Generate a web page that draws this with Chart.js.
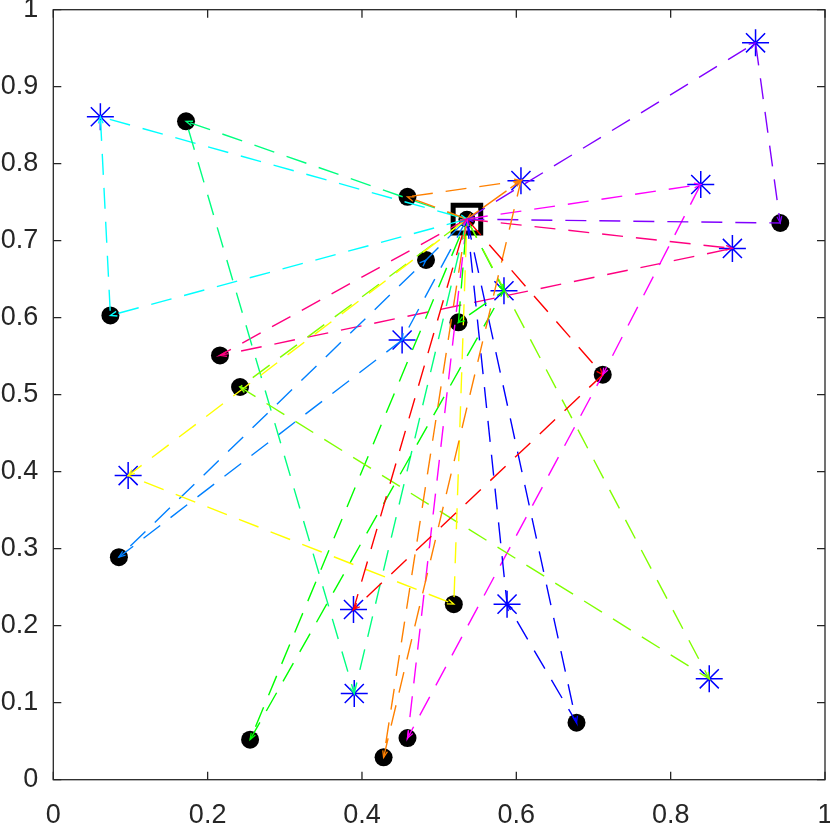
<!DOCTYPE html>
<html>
<head>
<meta charset="utf-8">
<script src="https://cdn.jsdelivr.net/npm/chart.js@4.4.1/dist/chart.umd.min.js"></script>
<style>
    html, body { margin: 0; padding: 0; background: #fff; }
    #wrap { width: 830px; height: 827px; }
</style>
</head>
<body>
<div id="wrap"><canvas id="routeChart"></canvas></div>
<script>
// depot
const depotX = [0.536];
const depotY = [0.728];

// customers (black dots) C1..C15
const custX = [0.172, 0.459, 0.074, 0.216, 0.242, 0.483, 0.525, 0.712, 0.942, 0.085, 0.255, 0.428, 0.459, 0.519, 0.678];
const custY = [0.855, 0.757, 0.603, 0.551, 0.510, 0.675, 0.594, 0.526, 0.723, 0.289, 0.052, 0.029, 0.054, 0.228, 0.074];

// stations (blue stars) S1..S12
const starX = [0.061, 0.452, 0.606, 0.910, 0.839, 0.880, 0.584, 0.097, 0.389, 0.390, 0.588, 0.850];
const starY = [0.861, 0.571, 0.778, 0.957, 0.773, 0.690, 0.635, 0.395, 0.221, 0.112, 0.228, 0.131];

const xTicks = [0, 0.2, 0.4, 0.6, 0.8, 1];
const yTicks = [0, 0.1, 0.2, 0.3, 0.4, 0.5, 0.6, 0.7, 0.8, 0.9, 1];

// routes, one per vehicle (hsv colours)
const routeRed     = ['D', 'C8', 'S9', 'D'];
const routeOrange  = ['D', 'C2', 'S3', 'D', 'S3', 'C12', 'D'];
const routeYellow  = ['D', 'S8', 'C14', 'D'];
const routeLime    = ['D', 'S12', 'C5', 'D'];
const routeGreen   = ['D', 'S7', 'C7', 'D', 'S7', 'C11', 'D'];
const routeSpring  = ['D', 'C1', 'S10', 'D'];
const routeCyan    = ['D', 'C3', 'S1', 'D'];
const routeAzure   = ['D', 'S2', 'C10', 'C6', 'D'];
const routeBlue    = ['D', 'C15', 'S11', 'D'];
const routeViolet  = ['D', 'S4', 'C9', 'D'];
const routeMagenta = ['D', 'S5', 'C8', 'C13', 'D'];
const routeRose    = ['D', 'S6', 'C4', 'D'];

const routes = [routeRed, routeOrange, routeYellow, routeLime, routeGreen, routeSpring,
                routeCyan, routeAzure, routeBlue, routeViolet, routeMagenta, routeRose];
const routeColors = ['#ff0000', '#ff8000', '#ffff00', '#80ff00', '#00ff00', '#00ff80',
                     '#00ffff', '#0080ff', '#0000ff', '#8000ff', '#ff00ff', '#ff0080'];

function nodeXY(id) {
    if (id === 'D') return { x: depotX[0], y: depotY[0] };
    const n = parseInt(id.slice(1), 10) - 1;
    if (id[0] === 'C') return { x: custX[n], y: custY[n] };
    return { x: starX[n], y: starY[n] };
}

const routeSets = routes.map((r, i) => ({
    isRoute: true,
    data: r.map(nodeXY),
    showLine: true,
    borderColor: routeColors[i],
    backgroundColor: routeColors[i],
    borderWidth: 1.4,
    borderDash: [21, 13],
    pointRadius: 0,
    fill: false,
    tension: 0,
    order: 0
}));

// small arrow heads at the end of each leg
const arrowHeads = {
    id: 'arrowHeads',
    afterDatasetsDraw(chart) {
        const { ctx } = chart;
        ctx.save();
        ctx.lineWidth = 1.3;
        chart.data.datasets.forEach((ds, i) => {
            if (!ds.isRoute) return;
            const pts = chart.getDatasetMeta(i).data;
            ctx.strokeStyle = ds.borderColor;
            for (let k = 1; k < pts.length; k++) {
                const p0 = pts[k - 1], p1 = pts[k];
                const ang = Math.atan2(p1.y - p0.y, p1.x - p0.x);
                ctx.beginPath();
                ctx.moveTo(p1.x - 7 * Math.cos(ang - 0.35), p1.y - 7 * Math.sin(ang - 0.35));
                ctx.lineTo(p1.x, p1.y);
                ctx.lineTo(p1.x - 7 * Math.cos(ang + 0.35), p1.y - 7 * Math.sin(ang + 0.35));
                ctx.stroke();
            }
        });
        ctx.restore();
    }
};

// matlab style box with inward ticks
const boxTicks = {
    id: 'boxTicks',
    afterDraw(chart) {
        const { ctx, chartArea: a, scales: { x, y } } = chart;
        ctx.save();
        ctx.strokeStyle = '#262626';
        ctx.lineWidth = 1.3;
        ctx.strokeRect(a.left, a.top, a.right - a.left, a.bottom - a.top);
        ctx.beginPath();
        x.ticks.forEach(t => {
            const px = x.getPixelForValue(t.value);
            ctx.moveTo(px, a.bottom); ctx.lineTo(px, a.bottom - 8);
            ctx.moveTo(px, a.top); ctx.lineTo(px, a.top + 8);
        });
        y.ticks.forEach(t => {
            const py = y.getPixelForValue(t.value);
            ctx.moveTo(a.left, py); ctx.lineTo(a.left + 8, py);
            ctx.moveTo(a.right, py); ctx.lineTo(a.right - 8, py);
        });
        ctx.stroke();
        ctx.restore();
    }
};

const tickFont = { family: '"Liberation Sans", Arial, sans-serif', size: 27 };
const fmt = v => String(Math.round(v * 10) / 10);
const noPad = s => { s.paddingLeft = 0; s.paddingRight = 0; s.paddingTop = 0; s.paddingBottom = 0; };

new Chart(document.getElementById('routeChart'), {
    type: 'scatter',
    data: {
        datasets: [
            ...routeSets,
            {
                data: starX.map((v, i) => ({ x: v, y: starY[i] })),
                pointStyle: 'star',
                pointRadius: 13.5,
                borderColor: '#0000ff',
                backgroundColor: '#0000ff',
                borderWidth: 1.5,
                order: 1
            },
            {
                data: custX.map((v, i) => ({ x: v, y: custY[i] })),
                pointStyle: 'circle',
                pointRadius: 9,
                backgroundColor: '#000000',
                borderWidth: 0,
                order: 2
            },
            {
                data: depotX.map((v, i) => ({ x: v, y: depotY[i] })),
                pointStyle: 'circle',
                pointRadius: 8.5,
                backgroundColor: '#000000',
                borderWidth: 0,
                order: 3
            },
            {
                data: depotX.map((v, i) => ({ x: v, y: depotY[i] })),
                pointStyle: 'rect',
                pointRadius: 19.5,
                backgroundColor: '#ffffff',
                borderColor: '#000000',
                borderWidth: 5,
                order: 4
            }
        ]
    },
    options: {
        responsive: true,
        maintainAspectRatio: false,
        animation: false,
        events: [],
        layout: { autoPadding: false, padding: { top: 9.7, right: 5, left: 0, bottom: 0 } },
        plugins: { legend: { display: false }, tooltip: { enabled: false } },
        scales: {
            x: {
                type: 'linear', min: 0, max: 1,
                afterBuildTicks: s => { s.ticks = xTicks.map(v => ({ value: v })); },
                afterFit: s => { s.height = 47.3; noPad(s); },
                grid: { display: false, drawTicks: false },
                border: { display: false },
                ticks: { font: tickFont, color: '#262626', padding: 20, maxRotation: 0, callback: fmt }
            },
            y: {
                type: 'linear', min: 0, max: 1,
                afterBuildTicks: s => { s.ticks = yTicks.map(v => ({ value: v })); },
                afterFit: s => { s.width = 53.3; noPad(s); },
                grid: { display: false, drawTicks: false },
                border: { display: false },
                ticks: { font: tickFont, color: '#262626', padding: 15, callback: fmt }
            }
        }
    },
    plugins: [arrowHeads, boxTicks]
});
</script>
</body>
</html>
